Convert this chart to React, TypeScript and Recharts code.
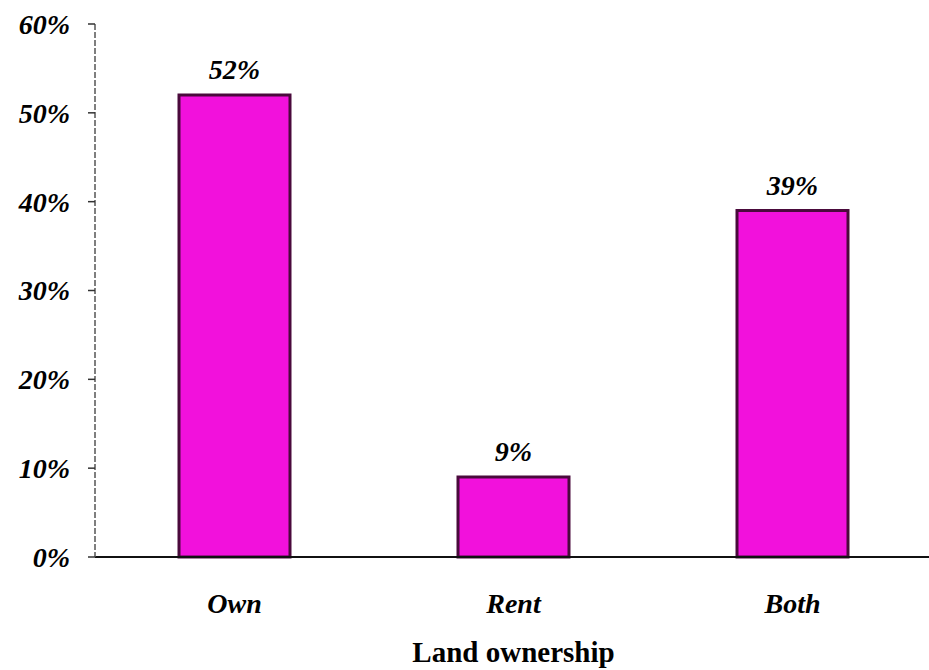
import React from 'react';
import { BarChart, Bar, XAxis, YAxis, LabelList, Label } from 'recharts';

const categories = ['Own', 'Rent', 'Both'];
const shares = [52, 9, 39];
const yTicks = [0, 10, 20, 30, 40, 50, 60];

const data = categories.map((name, i) => ({ name, value: shares[i] }));

const FONT = '"Liberation Serif", "Times New Roman", serif';

const App: React.FC = () => {
  return (
    <div style={{ position: 'absolute', left: 0, top: 0, width: 929, height: 670, overflow: 'hidden', background: '#fff' }}>
      <BarChart
        width={940}
        height={670}
        data={data}
        margin={{ top: 24, right: 8, left: 0, bottom: 8 }}
        barCategoryGap={0}
      >
        <XAxis
          dataKey="name"
          height={105}
          axisLine={{ stroke: '#111', strokeWidth: 2 }}
          tickLine={false}
          tickMargin={30}
          tick={{ fontFamily: FONT, fontSize: 28, fontWeight: 700, fontStyle: 'italic', fill: '#000' }}
        >
          <Label
            value="Land ownership"
            position="insideBottom"
            offset={0}
            style={{ fontFamily: FONT, fontSize: 29, fontWeight: 700, fill: '#000' }}
          />
        </XAxis>
        <YAxis
          width={95}
          domain={[0, 60]}
          ticks={yTicks}
          interval={0}
          axisLine={{ stroke: '#555', strokeWidth: 1.5, strokeDasharray: '6 2' }}
          tickLine={{ stroke: '#333', strokeWidth: 1.5 }}
          tickSize={7}
          tickMargin={18}
          tickFormatter={(v: number) => `${v}%`}
          tick={{ fontFamily: FONT, fontSize: 28, fontWeight: 700, fontStyle: 'italic', fill: '#000' }}
        />
        <Bar
          dataKey="value"
          barSize={111}
          fill="#f211dc"
          stroke="#4a0a3c"
          strokeWidth={3}
          isAnimationActive={false}
        >
          <LabelList
            dataKey="value"
            position="top"
            offset={16}
            formatter={(v: number) => `${v}%`}
            style={{ fontFamily: FONT, fontSize: 28, fontWeight: 700, fontStyle: 'italic', fill: '#000' }}
          />
        </Bar>
      </BarChart>
    </div>
  );
};

export default App;
